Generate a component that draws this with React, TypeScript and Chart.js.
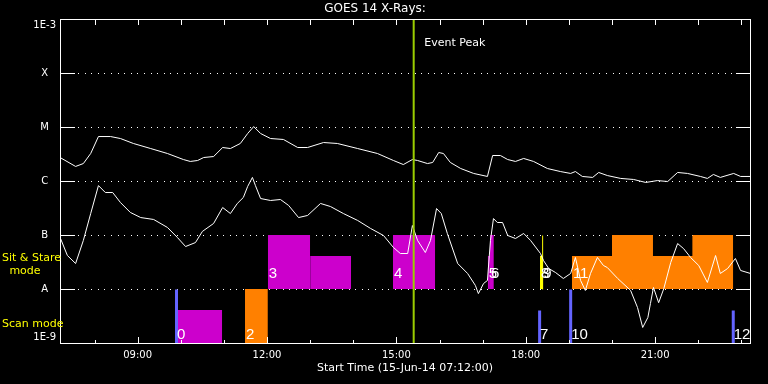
import React, { useEffect, useRef } from 'react';
import { Chart, registerables } from 'chart.js';

Chart.register(...registerables);

// ---------- data ----------
const X_MIN = 7.2; // 07:12
const X_MAX = 23.2;

const hourTicks = [8, 9, 10, 11, 12, 13, 14, 15, 16, 17, 18, 19, 20, 21, 22, 23];
const labeledHours = [9, 12, 15, 18, 21];

const yLevels = [1e-9, 1e-8, 1e-7, 1e-6, 1e-5, 1e-4, 1e-3];
const yLabels = ['1E-9', 'A', 'B', 'C', 'M', 'X', '1E-3'];

// long channel (1-8 A)
const longTimes = [7.20, 7.55, 7.73, 7.90, 8.08, 8.36, 8.59, 8.89, 9.29, 9.68, 10.05, 10.21, 10.38, 10.52, 10.75, 10.96, 11.14, 11.37, 11.54, 11.68, 11.84, 12.07, 12.37, 12.70, 12.93, 13.30, 13.62, 14.09, 14.55, 14.92, 15.15, 15.36, 15.48, 15.71, 15.83, 15.97, 16.08, 16.24, 16.48, 16.78, 17.10, 17.22, 17.40, 17.57, 17.75, 17.94, 18.17, 18.49, 18.79, 19.03, 19.14, 19.30, 19.54, 19.68, 19.88, 20.19, 20.49, 20.77, 21.04, 21.28, 21.51, 21.74, 22.04, 22.20, 22.34, 22.50, 22.81, 22.97, 23.20];
const longFlux = [2.75e-6, 1.90e-6, 2.15e-6, 3.30e-6, 6.8e-6, 6.8e-6, 6.25e-6, 5.06e-6, 4.08e-6, 3.30e-6, 2.55e-6, 2.35e-6, 2.45e-6, 2.78e-6, 2.90e-6, 4.26e-6, 4.08e-6, 5.06e-6, 7.74e-6, 1.04e-5, 7.74e-6, 6.25e-6, 6.0e-6, 4.26e-6, 4.26e-6, 5.27e-6, 5.06e-6, 4.08e-6, 3.30e-6, 2.45e-6, 2.06e-6, 2.55e-6, 2.45e-6, 2.15e-6, 2.25e-6, 3.44e-6, 3.30e-6, 2.25e-6, 1.74e-6, 1.41e-6, 1.24e-6, 3.03e-6, 3.03e-6, 2.55e-6, 2.35e-6, 2.67e-6, 2.35e-6, 1.74e-6, 1.53e-6, 1.41e-6, 1.53e-6, 1.24e-6, 1.19e-6, 1.47e-6, 1.29e-6, 1.14e-6, 1.09e-6, 9.6e-7, 1.04e-6, 1.0e-6, 1.47e-6, 1.41e-6, 1.24e-6, 1.14e-6, 1.35e-6, 1.19e-6, 1.41e-6, 1.24e-6, 1.24e-6];

// short channel (0.5-4 A)
const shortTimes = [7.20, 7.36, 7.55, 7.73, 7.90, 8.08, 8.24, 8.41, 8.59, 8.82, 9.06, 9.36, 9.68, 9.91, 10.10, 10.33, 10.49, 10.75, 10.96, 11.14, 11.30, 11.44, 11.54, 11.65, 11.72, 11.84, 12.07, 12.30, 12.49, 12.72, 12.93, 13.23, 13.46, 13.76, 14.09, 14.39, 14.69, 14.92, 15.08, 15.25, 15.36, 15.48, 15.66, 15.78, 15.92, 16.03, 16.17, 16.41, 16.64, 16.82, 16.89, 17.01, 17.10, 17.17, 17.24, 17.33, 17.45, 17.57, 17.75, 17.94, 18.10, 18.33, 18.40, 18.52, 18.68, 18.86, 19.03, 19.14, 19.26, 19.37, 19.49, 19.65, 19.79, 19.88, 20.12, 20.42, 20.58, 20.70, 20.82, 20.88, 20.95, 21.07, 21.19, 21.35, 21.51, 21.65, 21.81, 22.00, 22.20, 22.39, 22.50, 22.67, 22.85, 22.97, 23.20];
const shortFlux = [8.8e-8, 4.26e-8, 3.03e-8, 8.1e-8, 2.55e-7, 8.4e-7, 6.25e-7, 6.25e-7, 4.08e-7, 2.67e-7, 2.15e-7, 1.98e-7, 1.41e-7, 9.2e-8, 6.25e-8, 7.4e-8, 1.19e-7, 1.67e-7, 3.30e-7, 2.55e-7, 3.92e-7, 5.06e-7, 8.1e-7, 1.19e-6, 8.4e-7, 4.84e-7, 4.45e-7, 4.64e-7, 3.60e-7, 2.15e-7, 2.35e-7, 3.92e-7, 3.44e-7, 2.55e-7, 1.90e-7, 1.35e-7, 1.0e-7, 6.0e-8, 4.64e-8, 4.64e-8, 1.53e-7, 8.1e-8, 4.84e-8, 8.1e-8, 3.16e-7, 2.55e-7, 1.09e-7, 3.03e-8, 1.98e-8, 1.19e-8, 8.4e-9, 1.29e-8, 1.47e-8, 8.1e-8, 2.06e-7, 1.74e-7, 1.74e-7, 1.0e-7, 8.8e-8, 1.09e-7, 8.1e-8, 4.64e-8, 3.44e-8, 2.45e-8, 2.06e-8, 1.60e-8, 1.98e-8, 3.92e-8, 1.47e-8, 9.6e-9, 1.98e-8, 3.92e-8, 2.78e-8, 2.55e-8, 1.60e-8, 9.6e-9, 4.64e-9, 1.98e-9, 3.03e-9, 5.5e-9, 1.09e-8, 5.7e-9, 1.04e-8, 3.16e-8, 7.1e-8, 5.7e-8, 3.92e-8, 2.78e-8, 1.35e-8, 4.26e-8, 1.98e-8, 2.45e-8, 3.75e-8, 2.25e-8, 1.98e-8];

// observation blocks (time range in hours, flux range of the band)
const blockStart = [9.91, 11.49, 12.02, 13.00, 14.92, 17.12, 17.17, 18.33, 19.07, 20.00, 21.86];
const blockEnd = [10.96, 12.02, 13.00, 13.95, 15.90, 17.17, 17.26, 18.40, 22.81, 20.95, 22.81];
const blockLow = [1e-9, 1e-9, 1e-8, 1e-8, 1e-8, 1e-8, 1e-8, 1e-8, 1e-8, 1e-8, 1e-8];
const blockHigh = [4.1e-9, 1e-8, 1e-7, 4.1e-8, 1e-7, 4.1e-8, 1e-7, 4.1e-8, 4.1e-8, 1e-7, 1e-7];
const blockKind = ['magenta', 'orange', 'magenta', 'magenta', 'magenta', 'magenta', 'magenta', 'yellow', 'orange', 'orange', 'orange'];

// thin markers
const markerTimes = [9.89, 18.31, 18.38, 19.03, 22.80];
const markerLow = [1e-9, 1e-9, 1e-8, 1e-9, 1e-9];
const markerHigh = [1e-8, 4.1e-9, 1e-7, 1e-8, 4.1e-9];
const markerKind = ['blue', 'blue', 'yellow', 'blue', 'blue'];

// event numbers
const eventLabels = ['0', '2', '3', '4', '5', '6', '7', '8', '9', '10', '11', '12'];
const eventTimes = [9.89, 11.49, 12.02, 14.92, 17.12, 17.17, 18.31, 18.33, 18.38, 19.03, 19.07, 22.80];
const eventBands = ['scan', 'scan', 'sit', 'sit', 'sit', 'sit', 'scan', 'sit', 'sit', 'scan', 'sit', 'scan'];

const peakTime = 15.39;

// ---------- styles ----------
const KIND_COLORS: Record<string, string> = {
  magenta: '#cc00cc',
  orange: '#ff8000',
  yellow: '#ffff00',
  blue: '#6464ff',
};
const MARKER_WIDTH: Record<string, number> = { blue: 3, yellow: 1 };
const PEAK_COLOR = '#9acd00';
const FONT = 'DejaVu Sans';

const pad2 = (n: number) => (n < 10 ? '0' + n : '' + n);

const overlayPlugin = {
  id: 'goesOverlay',
  beforeDatasetsDraw(chart: any) {
    const { ctx, chartArea: a, scales } = chart;
    const y = scales.y;
    ctx.save();
    ctx.fillStyle = '#ffffff';
    const l = Math.round(a.left);
    const r = Math.round(a.right);
    for (const v of yLevels.slice(1, -1)) {
      const py = Math.round(y.getPixelForValue(v));
      ctx.fillRect(l, py, 15, 1);
      ctx.fillRect(r - 14, py, 15, 1);
      for (let px = l + 18; px < r - 16; px += 6.6) ctx.fillRect(Math.round(px), py, 1, 1);
    }
    ctx.restore();
  },
  beforeDatasetDraw(chart: any, args: any) {
    const ds = chart.data.datasets[args.index];
    chart.ctx.save();
    if (!ds.fill) chart.ctx.translate(0.5, 0.5);
  },
  afterDatasetDraw(chart: any) {
    chart.ctx.restore();
  },
  afterDatasetsDraw(chart: any) {
    const { ctx, chartArea: a, scales } = chart;
    const x = scales.x;
    const y = scales.y;
    const l = Math.round(a.left);
    const r = Math.round(a.right);
    const t = Math.round(a.top);
    const b = Math.round(a.bottom);
    ctx.save();
    ctx.fillStyle = '#ffffff';
    // frame
    ctx.fillRect(l, t, 1, b - t + 1);
    ctx.fillRect(r, t, 1, b - t + 1);
    ctx.fillRect(l, t, r - l + 1, 1);
    ctx.fillRect(l, b, r - l + 1, 1);
    // hour ticks
    for (const h of hourTicks) {
      const px = Math.round(x.getPixelForValue(h));
      const major = labeledHours.includes(h);
      const len = major ? 6 : 3;
      ctx.fillRect(px, b - len, 1, len);
      ctx.fillRect(px, t + 1, 1, 5);
    }
    // event numbers
    ctx.font = '15px "Liberation Sans"';
    ctx.textAlign = 'left';
    ctx.textBaseline = 'alphabetic';
    eventLabels.forEach((lab, i) => {
      const px = x.getPixelForValue(eventTimes[i]) + 1;
      const py = eventBands[i] === 'sit' ? y.getPixelForValue(1e-8) - 11 : y.getPixelForValue(1e-9) - 4;
      ctx.fillText(lab, px, py);
    });
    // event peak text
    ctx.font = `11px "${FONT}"`;
    ctx.textBaseline = 'middle';
    ctx.fillText('Event Peak', x.getPixelForValue(peakTime) + 11, a.top + 24);
    // mode labels
    ctx.fillStyle = '#ffff00';
    const aPix = y.getPixelForValue(1e-8);
    const minPix = y.getPixelForValue(1e-9);
    ctx.textAlign = 'left';
    ctx.fillText('Sit & Stare', 2, aPix - 30.5);
    ctx.textAlign = 'center';
    ctx.fillText('mode', 25, aPix - 18);
    ctx.textAlign = 'left';
    ctx.fillText('Scan mode', 2, minPix - 19);
    ctx.restore();
  },
};

export default function App() {
  const canvasRef = useRef<HTMLCanvasElement | null>(null);

  useEffect(() => {
    const canvas = canvasRef.current;
    if (!canvas) return;

    const datasets: any[] = [];

    datasets.push({
      label: 'Event Peak',
      data: [{ x: peakTime, y: 1e-9 }, { x: peakTime, y: 1e-3 }],
      borderColor: PEAK_COLOR,
      borderWidth: 2,
      pointRadius: 0,
      fill: false,
      order: 0,
    });
    datasets.push({
      label: 'Long',
      data: longTimes.map((tm, i) => ({ x: tm, y: longFlux[i] })),
      borderColor: '#ffffff',
      borderWidth: 1,
      pointRadius: 0,
      tension: 0,
      fill: false,
      order: 1,
    });
    datasets.push({
      label: 'Short',
      data: shortTimes.map((tm, i) => ({ x: tm, y: shortFlux[i] })),
      borderColor: '#ffffff',
      borderWidth: 1,
      pointRadius: 0,
      tension: 0,
      fill: false,
      order: 1,
    });
    markerTimes.forEach((tm, i) => {
      datasets.push({
        label: 'marker' + i,
        data: [{ x: tm, y: markerLow[i] }, { x: tm, y: markerHigh[i] }],
        borderColor: KIND_COLORS[markerKind[i]],
        borderWidth: MARKER_WIDTH[markerKind[i]],
        pointRadius: 0,
        fill: false,
        order: 2,
      });
    });
    blockStart.forEach((s, i) => {
      datasets.push({
        label: 'block' + i,
        data: [{ x: s, y: blockHigh[i] }, { x: blockEnd[i], y: blockHigh[i] }],
        borderColor: 'rgba(0,0,0,0)',
        borderWidth: 1,
        backgroundColor: KIND_COLORS[blockKind[i]],
        fill: { value: blockLow[i] },
        pointRadius: 0,
        order: 3,
      });
    });

    const chart = new Chart(canvas, {
      type: 'line',
      data: { datasets },
      options: {
        animation: false,
        responsive: false,
        devicePixelRatio: 1,
        events: [],
        layout: { padding: { left: 0, right: 18, top: 0, bottom: 0 } },
        plugins: {
          legend: { display: false },
          tooltip: { enabled: false },
          title: {
            display: true,
            text: 'GOES 14 X-Rays:',
            color: '#ffffff',
            font: { family: FONT, size: 12, weight: 'normal' },
            padding: { top: 2, bottom: 2.6 },
          },
        },
        scales: {
          x: {
            type: 'linear',
            min: X_MIN,
            max: X_MAX,
            grid: { display: false, drawTicks: false },
            border: { display: false },
            afterBuildTicks: (s: any) => {
              s.ticks = hourTicks.map((v) => ({ value: v }));
            },
            afterFit: (s: any) => {
              s.height = 41;
            },
            ticks: {
              autoSkip: false,
              maxRotation: 0,
              color: '#ffffff',
              font: { family: FONT, size: 10 },
              padding: 6,
              callback: (v: any) => (labeledHours.includes(Number(v)) ? pad2(Number(v)) + ':00' : ''),
            },
            title: {
              display: true,
              text: 'Start Time (15-Jun-14 07:12:00)',
              color: '#ffffff',
              font: { family: FONT, size: 11 },
              padding: { top: 0, bottom: 9 },
            },
          },
          y: {
            type: 'logarithmic',
            min: 1e-9,
            max: 1e-3,
            grid: { display: false, drawTicks: false },
            border: { display: false },
            afterBuildTicks: (s: any) => {
              s.ticks = yLevels.map((v) => ({ value: v }));
            },
            afterFit: (s: any) => {
              s.width = 60;
            },
            ticks: {
              autoSkip: false,
              color: '#ffffff',
              font: { family: FONT, size: 10 },
              padding: 4,
              crossAlign: 'center',
              callback: (_v: any, i: number) =>
                i === yLevels.length - 1 ? ['', yLabels[i]] : i === 0 ? [yLabels[i], ''] : yLabels[i],
            },
          },
        },
      } as any,
      plugins: [overlayPlugin],
    });

    return () => chart.destroy();
  }, []);

  return (
    <div style={{ position: 'fixed', left: 0, top: 0, width: 768, height: 384, background: '#000' }}>
      <canvas ref={canvasRef} width={768} height={384} style={{ display: 'block', background: '#000' }} />
    </div>
  );
}
